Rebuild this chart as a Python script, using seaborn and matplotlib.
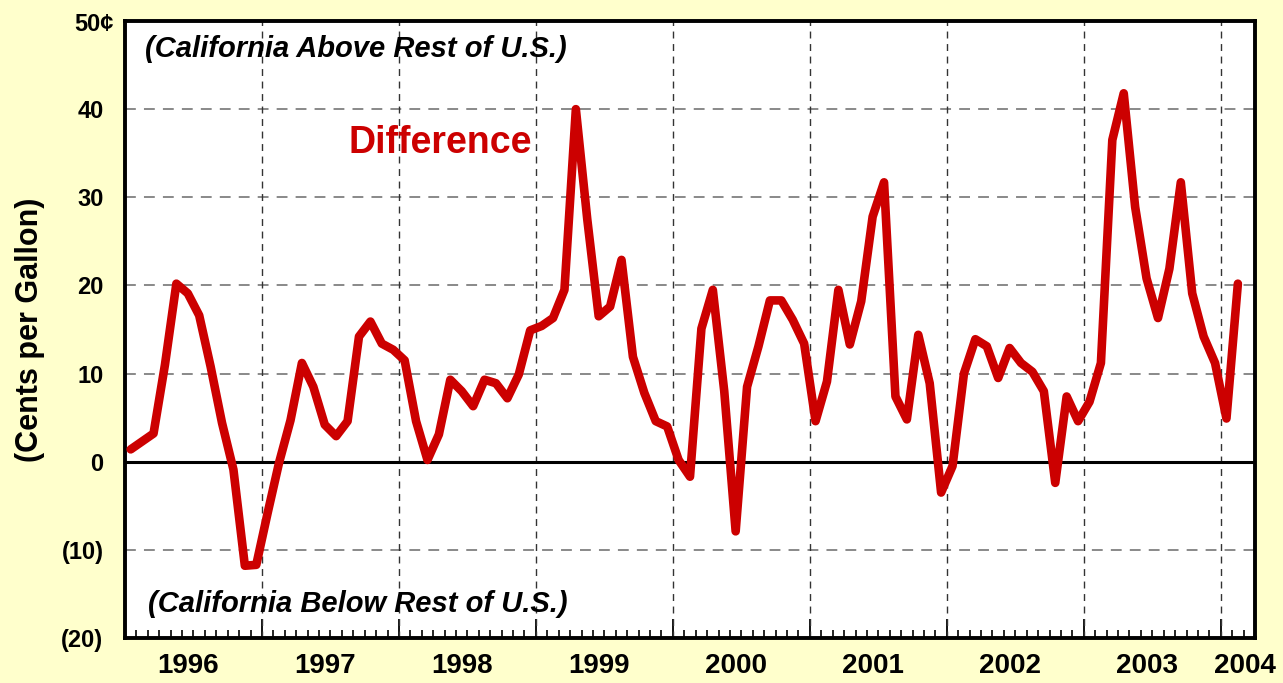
import matplotlib
matplotlib.use('Agg')
import matplotlib.pyplot as plt
import seaborn as sns
import pandas as pd
import numpy as np
from matplotlib.ticker import FixedLocator, NullFormatter

# monthly CA minus rest-of-US gasoline price difference, Jan 1996 - Feb 2004
start_year = 1996
difference = [1.4, 2.3, 3.2, 11.0, 20.2, 19.1, 16.6, 10.8, 4.4, -0.9, -11.8, -11.7,
              -5.8, -0.1, 4.7, 11.2, 8.5, 4.2, 2.9, 4.6, 14.2, 15.9, 13.4, 12.7,
              11.5, 4.6, 0.2, 3.1, 9.3, 8.0, 6.3, 9.3, 8.9, 7.2, 9.9, 14.9,
              15.4, 16.3, 19.5, 40.0, 27.5, 16.5, 17.6, 22.9, 11.9, 7.8, 4.6, 4.0,
              0.2, -1.7, 15.1, 19.5, 8.0, -7.9, 8.5, 13.1, 18.3, 18.3, 16.1, 13.4,
              4.6, 9.1, 19.5, 13.3, 18.2, 27.8, 31.7, 7.4, 4.8, 14.4, 8.9, -3.5,
              -0.5, 10.0, 13.9, 13.1, 9.5, 12.9, 11.2, 10.2, 8.0, -2.4, 7.4, 4.6,
              6.8, 11.2, 36.5, 41.8, 28.9, 20.8, 16.3, 21.9, 31.7, 19.1, 14.2, 11.2,
              4.9, 20.2]
year_labels = ['1996', '1997', '1998', '1999', '2000', '2001', '2002', '2003', '2004']
y_ticks = [-20, -10, 0, 10, 20, 30, 40, 50]
y_labels = ['(20)', '(10)', '0', '10', '20', '30', '40', '']

df = pd.DataFrame({'month': np.arange(len(difference)), 'diff': difference})
df['x'] = start_year + (df['month'] + 0.5) / 12

bg = '#FFFFCC'
red = '#CC0000'

sns.set_style('white')
plt.rcParams['font.family'] = ['Liberation Sans', 'DejaVu Sans']
plt.rcParams['text.color'] = 'black'
plt.rcParams['axes.labelcolor'] = 'black'
plt.rcParams['xtick.color'] = 'black'
plt.rcParams['ytick.color'] = 'black'

fig = plt.figure(figsize=(12.83, 6.83), dpi=100, facecolor=bg)
ax = fig.add_axes([125/1283, 1 - 638/683, (1255-125)/1283, (638-21)/683])
ax.set_facecolor('white')

x_end = start_year + 99 / 12
ax.set_xlim(start_year, x_end)
ax.set_ylim(-20, 50)

# grid
for yv in [-10, 10, 20, 30, 40]:
    ax.axhline(yv, color='#808080', lw=1.3, dashes=(6, 4.5), zorder=1)
for yr in range(1997, 2005):
    ax.axvline(yr, color='#333333', lw=1.0, dashes=(5, 4), zorder=1)
ax.axhline(0, color='black', lw=2.2, zorder=2)

sns.lineplot(data=df, x='x', y='diff', ax=ax, color=red, lw=6.2,
             solid_joinstyle='round', solid_capstyle='round', zorder=3)

for s in ax.spines.values():
    s.set_color('black')
    s.set_linewidth(2.8)

ax.set_yticks(y_ticks)
ax.set_yticklabels(y_labels, fontsize=17, fontweight='bold', color='black')
ax.tick_params(axis='y', length=0, pad=15.5)
ax.text(-0.0097, 0.995, '50\u00a2', transform=ax.transAxes, ha='right', va='center',
        fontsize=17, fontweight='bold', color='black')

# bottom ticks: monthly minor, yearly major, pointing inward
ax.xaxis.set_major_locator(FixedLocator(list(range(1997, 2005))))
ax.xaxis.set_minor_locator(FixedLocator([start_year + m / 12 for m in range(1, 99) if m % 12]))
ax.xaxis.set_major_formatter(NullFormatter())
ax.tick_params(axis='x', which='major', direction='in', length=14, width=1.3, color='black')
ax.tick_params(axis='x', which='minor', direction='in', length=6, width=1.2, color='black')
ax.tick_params(axis='x', which='both', bottom=True, top=False)

label_pos = [start_year + i + 0.46 for i in range(8)] + [2004.18]
for xp, lab in zip(label_pos, year_labels):
    ax.text(xp, -0.046, lab, transform=ax.get_xaxis_transform(), ha='center', va='center',
            fontsize=20, fontweight='bold', color='black', clip_on=False)

ax.set_xlabel('')
ax.set_ylabel('(Cents per Gallon)', fontsize=22, fontweight='bold', labelpad=12, color='black')

ax.text(0.018, 0.955, '(California Above Rest of U.S.)', transform=ax.transAxes,
        ha='left', va='center', fontsize=21, fontweight='bold', style='italic', color='black')
ax.text(0.02, 0.055, '(California Below Rest of U.S.)', transform=ax.transAxes,
        ha='left', va='center', fontsize=21, fontweight='bold', style='italic', color='black')
ax.text(1998.30, 36.2, 'Difference', ha='center', va='center', fontsize=27,
        fontweight='bold', color=red)

fig.savefig('out.png', dpi=100, facecolor=bg)
